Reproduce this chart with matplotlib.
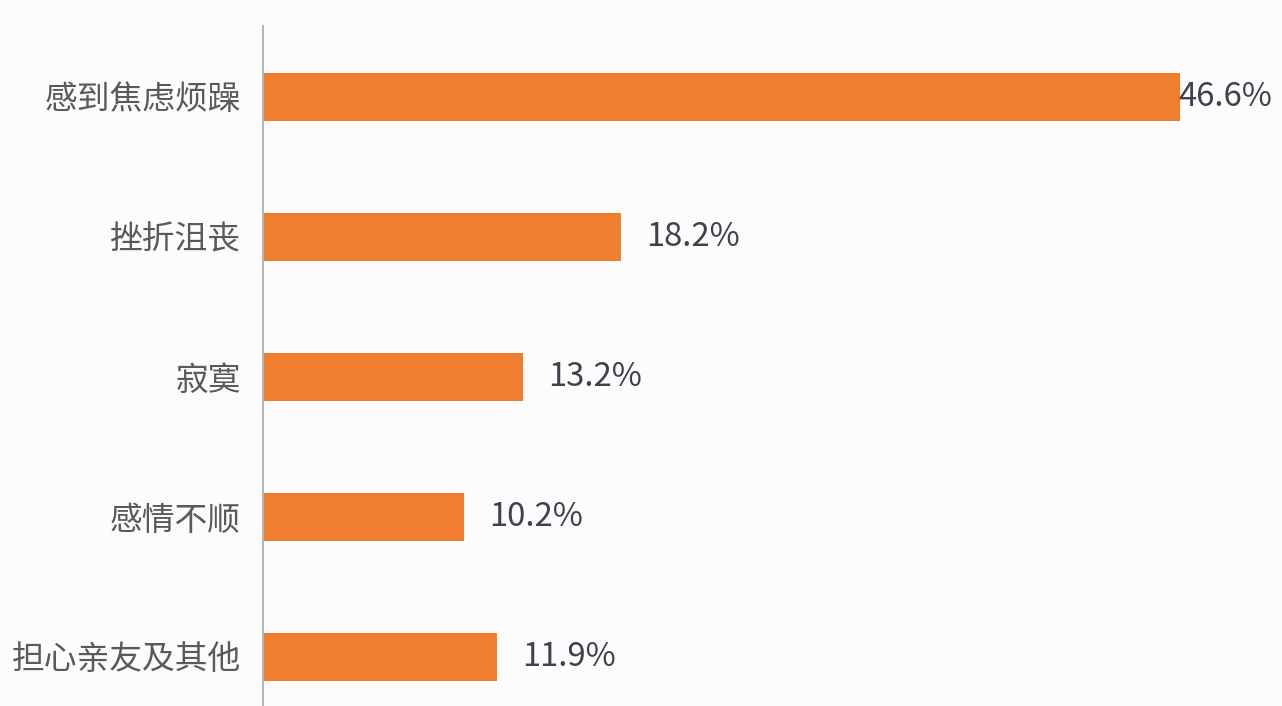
import numpy as np
import matplotlib.pyplot as plt

plt.rcParams['font.family'] = ['Noto Sans CJK SC', 'DejaVu Sans']

categories = ['感到焦虑烦躁', '挫折沮丧', '寂寞', '感情不顺', '担心亲友及其他']
values = [46.6, 18.2, 13.2, 10.2, 11.9]
value_labels = ['46.6%', '18.2%', '13.2%', '10.2%', '11.9%']

fig = plt.figure(figsize=(12.82, 7.06), dpi=100, facecolor='#fdfcfd')
ax = fig.add_axes([263 / 1282, 0, 984 / 1282, 680 / 706])
ax.set_facecolor('#fdfcfd')

y = np.arange(len(categories))
ax.barh(y, values, height=0.34, color='#f07e2f')

ax.set_xlim(0, 50)
ax.set_ylim(4.35, -0.507)

ax.set_yticks(y)
ax.set_yticklabels(categories, fontsize=23.6, color='#5a5a5a')
ax.tick_params(axis='y', length=0, pad=16)
ax.set_xticks([])

for s in ['top', 'right', 'bottom']:
    ax.spines[s].set_visible(False)
ax.spines['left'].set_color('#b4b4b4')
ax.spines['left'].set_linewidth(1.4)

for i, (v, lab) in enumerate(zip(values, value_labels)):
    off = -2 if i == 0 else 25
    ax.annotate(lab, (v, i), xytext=(off * 0.72, 0), textcoords='offset points',
                va='center', ha='left', fontsize=23.6, color='#41404f')

fig.savefig('out.png', dpi=100, facecolor=fig.get_facecolor())
